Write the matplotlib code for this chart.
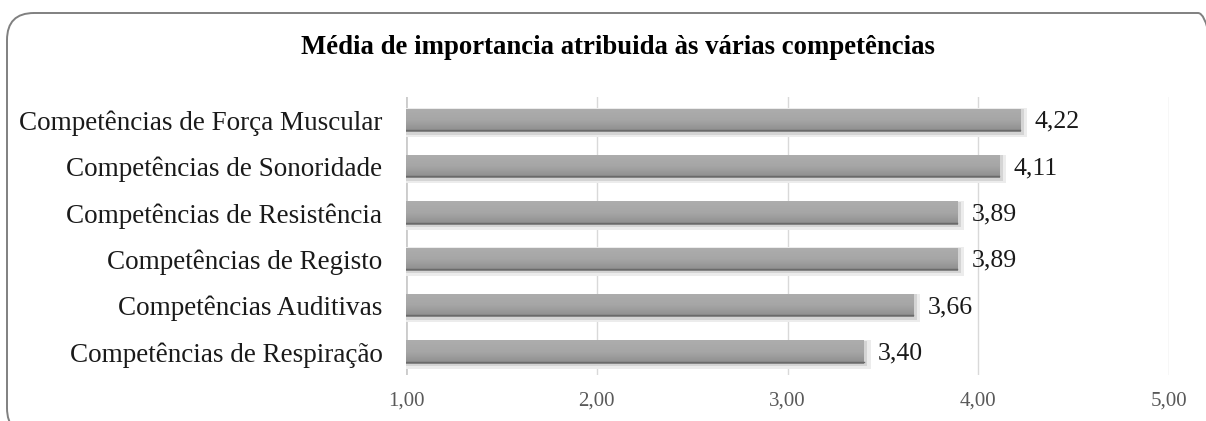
import numpy as np
import matplotlib.pyplot as plt
from matplotlib.patches import FancyBboxPatch
from matplotlib.colors import LinearSegmentedColormap

# data
categories = ['Competências de Força Muscular', 'Competências de Sonoridade',
              'Competências de Resistência', 'Competências de Registo',
              'Competências Auditivas', 'Competências de Respiração']
values = [4.22, 4.11, 3.89, 3.89, 3.66, 3.40]
xticks = [1, 2, 3, 4, 5]

plt.rcParams['font.family'] = ['Liberation Serif', 'DejaVu Serif']

fig = plt.figure(figsize=(12.06, 4.21), dpi=100)
ax = fig.add_axes([0.3367, 0.109, 0.6327, 0.660])

y = np.arange(len(categories))[::-1]
h = 0.5
base = 1.0

# grid
for t in xticks:
    ax.axvline(t, color='#d9d9d9', lw=1, zorder=0)
ax.axvline(1, color='#cccccc', lw=2, zorder=0)

# soft shadow
for yi, v in zip(y, values):
    ax.barh(yi - 0.05, v - base + 0.035, left=base, height=h + 0.12,
            color='#ececec', zorder=1)
    ax.barh(yi - 0.03, v - base + 0.018, left=base, height=h + 0.05,
            color='#d4d4d4', zorder=1)

# bars with vertical gradient
cmap = LinearSegmentedColormap.from_list('g', ['#8c8c8c', '#a6a6a6', '#adadad'])
grad = np.linspace(0, 1, 50).reshape(-1, 1)
for yi, v in zip(y, values):
    bar = ax.barh(yi, v - base, left=base, height=h, color='#a6a6a6', zorder=2)[0]
    im = ax.imshow(grad, cmap=cmap, aspect='auto',
                   extent=[base, v, yi - h / 2, yi + h / 2], origin='lower', zorder=2)
    im.set_clip_path(bar)
    ax.plot([base, v], [yi - h / 2 + 0.04, yi - h / 2 + 0.04], color='#6a6a6a',
            lw=1, zorder=3)
    ax.text(v + 0.075, yi - 0.03, f'{v:.2f}'.replace('.', ','), va='center', ha='left',
            fontsize=18.5, color='#1a1a1a')

ax.set_xlim(1, 5)
ax.set_ylim(-0.5, len(categories) - 0.5)
ax.set_xticks(xticks)
ax.set_xticklabels([f'{t:.2f}'.replace('.', ',') for t in xticks],
                   fontsize=15, color='#595959')
ax.set_yticks(y)
ax.set_yticklabels(categories, fontsize=19.5, color='#1a1a1a')
ax.tick_params(axis='x', length=0, pad=12)
ax.tick_params(axis='y', length=0, pad=17)
for s in ax.spines.values():
    s.set_visible(False)

fig.text(0.512, 0.888, 'Média de importancia atribuida às várias competências',
         ha='center', va='center', fontsize=19.3, fontweight='bold')

border = FancyBboxPatch((0.07, -0.14), 12.18, 4.22, transform=fig.dpi_scale_trans,
                        boxstyle='round,pad=0,rounding_size=0.27',
                        fill=False, edgecolor='#808080', lw=1.4)
fig.patches.append(border)

fig.savefig('out.png', dpi=100)
